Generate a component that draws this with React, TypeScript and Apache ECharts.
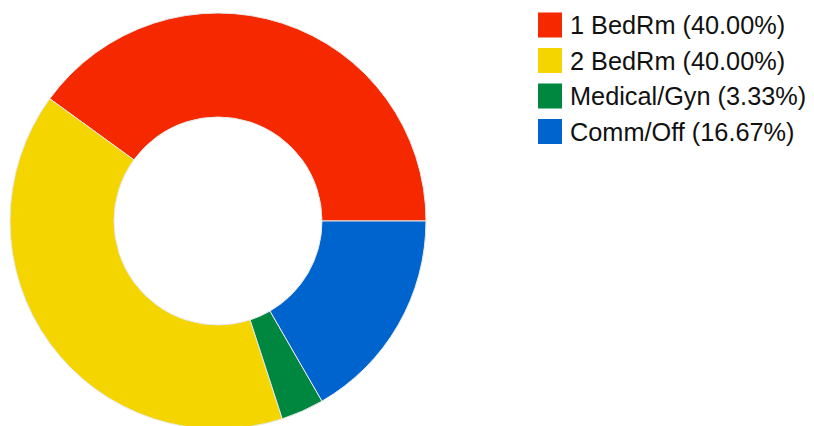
import React, { useEffect, useRef } from "react";
import * as echarts from "echarts";

const categories = ["1 BedRm", "2 BedRm", "Medical/Gyn", "Comm/Off"];
const values = [12, 12, 1, 5];
const percentLabels = ["40.00%", "40.00%", "3.33%", "16.67%"];
const colors = ["#f52800", "#f5d500", "#00873f", "#0064cf"];

export default function App() {
  const ref = useRef<HTMLDivElement>(null);
  useEffect(() => {
    if (!ref.current) return;
    const chart = echarts.init(ref.current, null, { renderer: "svg" });
    const names = categories.map((c, i) => `${c} (${percentLabels[i]})`);
    chart.setOption({
      animation: false,
      color: colors,
      legend: {
        orient: "vertical",
        left: 530,
        top: 4.5,
        padding: 0,
        icon: "rect",
        itemWidth: 24,
        itemHeight: 25,
        itemGap: 10.5,
        itemStyle: { borderWidth: 0 },
        textStyle: {
          fontFamily: "Liberation Sans, Arial",
          fontSize: 25.3,
          lineHeight: 25,
          color: "#111",
          padding: [0, 0, 0, 3],
        },
        data: names,
      },
      series: [
        {
          type: "pie",
          center: [210, 213],
          radius: [104, 208],
          startAngle: 0,
          clockwise: false,
          label: { show: false },
          labelLine: { show: false },
          itemStyle: { borderColor: "#e8e8e8", borderWidth: 1 },
          emphasis: { disabled: true },
          data: names.map((n, i) => ({ name: n, value: values[i] })),
        },
      ],
    });
    return () => chart.dispose();
  }, []);
  return <div ref={ref} style={{ width: 806, height: 418 }} />;
}
